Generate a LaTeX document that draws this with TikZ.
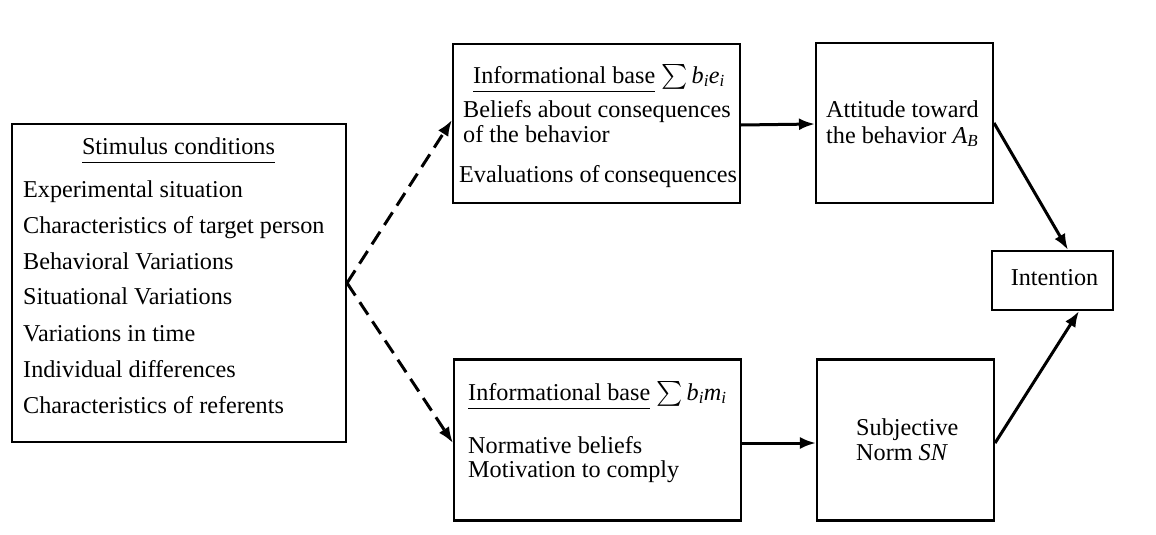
\documentclass[tikz,border=0pt]{standalone}
\usepackage{fontspec}
\usepackage{amsmath}
\setmainfont{Liberation Serif}
\usetikzlibrary{arrows.meta}
\newcommand{\ulx}[1]{\underline{#1\vphantom{p}}}
\newcommand{\vi}[1]{\textit{#1}}
\newcommand{\sbi}[1]{\textsubscript{\textit{#1}}}
\begin{document}
\begin{tikzpicture}[x=1pt,y=-1pt,
  box/.style={draw, line width=2.1pt, inner sep=0pt},
  txt/.style={inner sep=0pt, anchor=base west, font=\fontsize{24.2}{28}\selectfont},
  ctxt/.style={txt, anchor=base},
  arr/.style={line width=3pt, -{Latex[length=16pt,width=12pt]}},
  darr/.style={arr, dash pattern=on 15pt off 8pt}]
\useasboundingbox (0,0) rectangle (1156,535);
% boxes
\node[box, minimum width=334pt, minimum height=318pt] (stim) at (179,283) {};
\node[box, minimum width=287pt, minimum height=159pt] (info1) at (596.5,123.5) {};
\node[box, minimum width=287pt, minimum height=161pt] (info2) at (597.5,440) {};
\node[box, minimum width=177pt, minimum height=160pt] (att) at (904.5,123) {};
\node[box, minimum width=177pt, minimum height=161pt] (sn) at (905.5,440) {};
\node[box, minimum width=121pt, minimum height=59pt] (int) at (1052.5,280.5) {};
% stimulus texts
\node[ctxt] (st0) at (178.5,154) {\ulx{Stimulus conditions}};
\node[txt] (st1) at (23,197) {Experimental situation};
\node[txt] (st2) at (23,233) {Characteristics of target person};
\node[txt] (st3) at (23,269) {Behavioral Variations};
\node[txt] (st4) at (23,304) {Situational Variations};
\node[txt] (st5) at (23,341) {Variations in time};
\node[txt] (st6) at (23,377) {Individual differences};
\node[txt] (st7) at (23,413) {Characteristics of referents};
% informational base 1
\node[txt] (i10) at (473,83) {\ulx{Informational base} $\sum$\,\vi{b}\sbi{i}\vi{e}\sbi{i}};
\node[txt] (i11) at (463,117) {Beliefs about consequences};
\node[txt] (i12) at (463,142) {of the behavior};
\node[txt] (i13) at (459,182) {Evaluations of\hspace{0.18em}consequences};
% informational base 2
\node[txt] (i20) at (468,400) {\ulx{Informational base} $\sum$\,\vi{b}\sbi{i}\vi{m}\sbi{i}};
\node[txt] (i21) at (468,453) {Normative beliefs};
\node[txt] (i22) at (468,477) {Motivation to comply};
% attitude
\node[txt] (a1) at (826,117) {Attitude toward};
\node[txt] (a2) at (826,143) {the behavior \vi{A}\sbi{B}};
% subjective norm
\node[txt] (s1) at (856,435) {Subjective};
\node[txt] (s2) at (856,460) {Norm \vi{SN}};
% intention
\node[ctxt] (it) at (1054.5,285) {Intention};
% connectors
\draw[darr] (stim.east) -- ([yshift=3.5pt]info1.west);
\draw[darr] (stim.east) -- ([yshift=-3pt]info2.west);
\draw[arr] ([yshift=-1.5pt]info1.east) -- ([yshift=-1pt]att.west);
\draw[arr] ([yshift=-3pt]info2.east) -- ([yshift=-3pt]sn.west);
\draw[arr] (att.east) -- ([xshift=15.5pt]int.north);
\draw[arr] ([yshift=-3pt]sn.east) -- ([xshift=26.5pt]int.south);
\end{tikzpicture}
\end{document}
